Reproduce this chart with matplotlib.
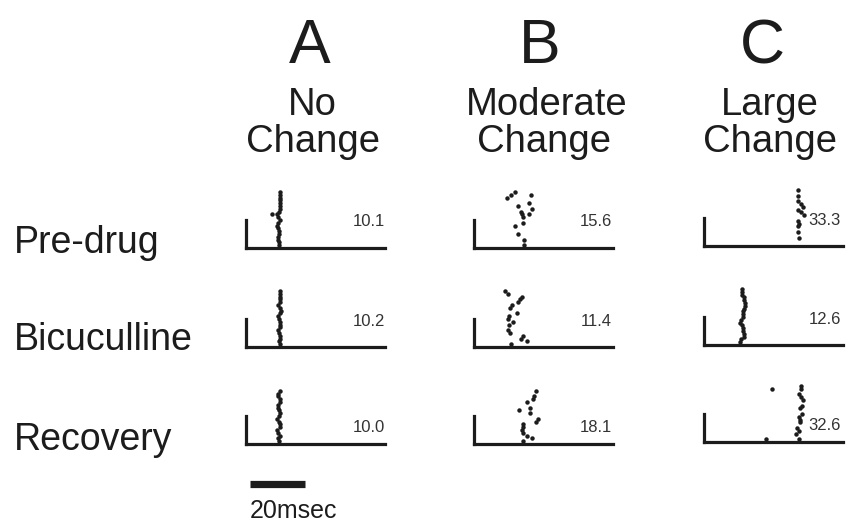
import matplotlib.pyplot as plt
import numpy as np

plt.rcParams['font.family'] = ['Liberation Sans', 'DejaVu Sans']

W, H = 864, 525

columns = ['A', 'B', 'C']
col_line1 = ['No', 'Moderate', 'Large']
col_line2 = ['Change', 'Change', 'Change']
rows = ['Pre-drug', 'Bicuculline', 'Recovery']

# first-spike latency (ms) per trial, one raster per condition
pre_a_trial = list(range(1, 21)) + [12]
pre_a_ms = [9.9, 9.9, 9.8, 9.8, 9.9, 10.1, 9.6, 9.3, 9.8, 10.3,
            9.5, 9.2, 9.9, 10.5, 10.4, 10.4, 10.4, 10.4, 10.5, 10.4, 7.3]
bic_a_trial = list(range(1, 21))
bic_a_ms = [10.3, 10.0, 10.2, 10.4, 10.0, 9.6, 10.2, 10.5, 10.3, 10.0,
            9.7, 10.2, 10.6, 10.3, 9.8, 10.4, 10.4, 10.4, 10.4, 10.4]
rec_a_trial = list(range(1, 20))
rec_a_ms = [10.0, 9.5, 10.4, 9.8, 9.4, 10.2, 10.5, 9.9, 9.4, 9.9,
            10.5, 10.1, 9.5, 9.8, 10.4, 10.3, 9.6, 9.8, 10.3]

pre_b_trial = [1, 3, 5, 8, 9, 11, 12, 12, 13, 14, 15, 16, 18, 19, 19, 20]
pre_b_ms = [16.2, 16.2, 14.1, 12.9, 15.9, 15.7, 15.3, 18.0, 15.0, 19.0,
            14.1, 18.0, 10.1, 11.5, 18.7, 12.9]
bic_b_trial = [1, 2, 3, 4, 5, 6, 8, 9, 10, 11, 12, 14, 15, 16, 17, 18, 19, 20]
bic_b_ms = [11.5, 17.2, 15.0, 15.7, 11.1, 10.5, 10.8, 12.1, 10.5, 10.8,
            13.5, 11.1, 11.7, 14.1, 14.7, 15.3, 10.5, 9.3]
rec_b_trial = [1, 2, 3, 4, 5, 6, 7, 8, 9, 11, 12, 13, 15, 16, 17, 19]
rec_b_ms = [15.7, 19.0, 17.4, 15.7, 15.6, 15.7, 15.9, 20.5, 21.4, 18.4,
            14.5, 18.4, 17.4, 19.3, 19.9, 20.5]

pre_c_trial = [3, 5, 7, 8, 9, 11, 12, 13, 14, 15, 16, 18, 20]
pre_c_ms = [32.7, 32.3, 32.3, 32.7, 32.3, 34.5, 33.3, 32.3, 33.9, 33.3,
            32.1, 32.3, 32.3]
bic_c_trial = list(range(1, 21))
bic_c_ms = [11.1, 11.6, 12.5, 12.7, 12.1, 12.1, 11.8, 11.1, 11.6, 12.0,
            12.0, 12.3, 12.4, 12.9, 12.9, 12.6, 12.5, 11.7, 11.7, 11.7]
rec_c_trial = [1, 1, 3, 4, 5, 7, 8, 9, 10, 12, 13, 15, 16, 17, 19, 19, 20]
rec_c_ms = [32.7, 20.5, 31.5, 32.7, 31.9, 32.9, 32.9, 32.7, 33.5, 32.9,
            33.5, 33.9, 33.3, 32.7, 33.3, 22.6, 33.3]

# mean latency printed on each raster
mean_ms = [[10.1, 15.6, 33.3],
           [10.2, 11.4, 12.6],
           [10.0, 18.1, 32.6]]

rasters = [[(pre_a_trial, pre_a_ms), (pre_b_trial, pre_b_ms), (pre_c_trial, pre_c_ms)],
           [(bic_a_trial, bic_a_ms), (bic_b_trial, bic_b_ms), (bic_c_trial, bic_c_ms)],
           [(rec_a_trial, rec_a_ms), (rec_b_trial, rec_b_ms), (rec_c_trial, rec_c_ms)]]

ink = '#1c1c1c'
px_per_ms = 2.75
px_per_trial = 2.8
xlim = (-2, 48.5)
ylim = (0, 21)

col_x = [246, 474, 704]
col_dy = [0, 0, -2]
row_base = [248, 347, 444]
label_dy = [26, 26, 16]
label_x = [48.5, 48.2, 47.8]

fig = plt.figure(figsize=(W / 100, H / 100), dpi=100)


def fig_xy(x, y):
    return x / W, 1 - y / H


for r in range(3):
    for c in range(3):
        base = row_base[r] + col_dy[c]
        w = (xlim[1] - xlim[0]) * px_per_ms
        h = (ylim[1] - ylim[0]) * px_per_trial
        ax = fig.add_axes([col_x[c] / W, 1 - base / H, w / W, h / H])
        trials, lat = rasters[r][c]
        ax.plot(lat, trials, 'o', ms=3.2, mew=0, color=ink, clip_on=False)
        ax.set_xlim(*xlim)
        ax.set_ylim(*ylim)
        ax.spines['top'].set_visible(False)
        ax.spines['right'].set_visible(False)
        for s in ['left', 'bottom']:
            ax.spines[s].set_linewidth(2.3)
            ax.spines[s].set_color(ink)
        ax.spines['left'].set_bounds(0, 10)
        ax.set_xticks([])
        ax.set_yticks([])
        ax.patch.set_alpha(0)
        ax.text(label_x[c], label_dy[r] / px_per_trial, '%.1f' % mean_ms[r][c],
                ha='right', va='center', fontsize=12, color='#333333')

# column headings
head_x = [310, 540, 762]
sub_x1 = [312, 547, 770]
sub_x2 = [313, 544, 770]
for c in range(3):
    fig.text(*fig_xy(head_x[c], 63), columns[c], ha='center', va='baseline',
             fontsize=45, color=ink)
    fig.text(*fig_xy(sub_x1[c], 115), col_line1[c], ha='center', va='baseline',
             fontsize=27.5, color=ink)
    fig.text(*fig_xy(sub_x2[c], 152), col_line2[c], ha='center', va='baseline',
             fontsize=27.5, color=ink)

# row labels
row_y = [253, 350, 450]
for r in range(3):
    fig.text(*fig_xy(14, row_y[r]), rows[r], ha='left', va='baseline',
             fontsize=27, color=ink)

# 20 ms scale bar, same x scale as the rasters
sb = fig.add_axes([246 / W, 1 - 500 / H, (xlim[1] - xlim[0]) * px_per_ms / W, 30 / H])
sb.set_xlim(*xlim)
sb.set_ylim(0, 1)
sb.plot([-0.5, 19.5], [0.55, 0.55], color=ink, lw=5.2, solid_capstyle='butt')
sb.axis('off')
fig.text(*fig_xy(250, 518), '20msec', ha='left', va='baseline', fontsize=18, color=ink)

fig.savefig('out.png', dpi=100, facecolor='white')
